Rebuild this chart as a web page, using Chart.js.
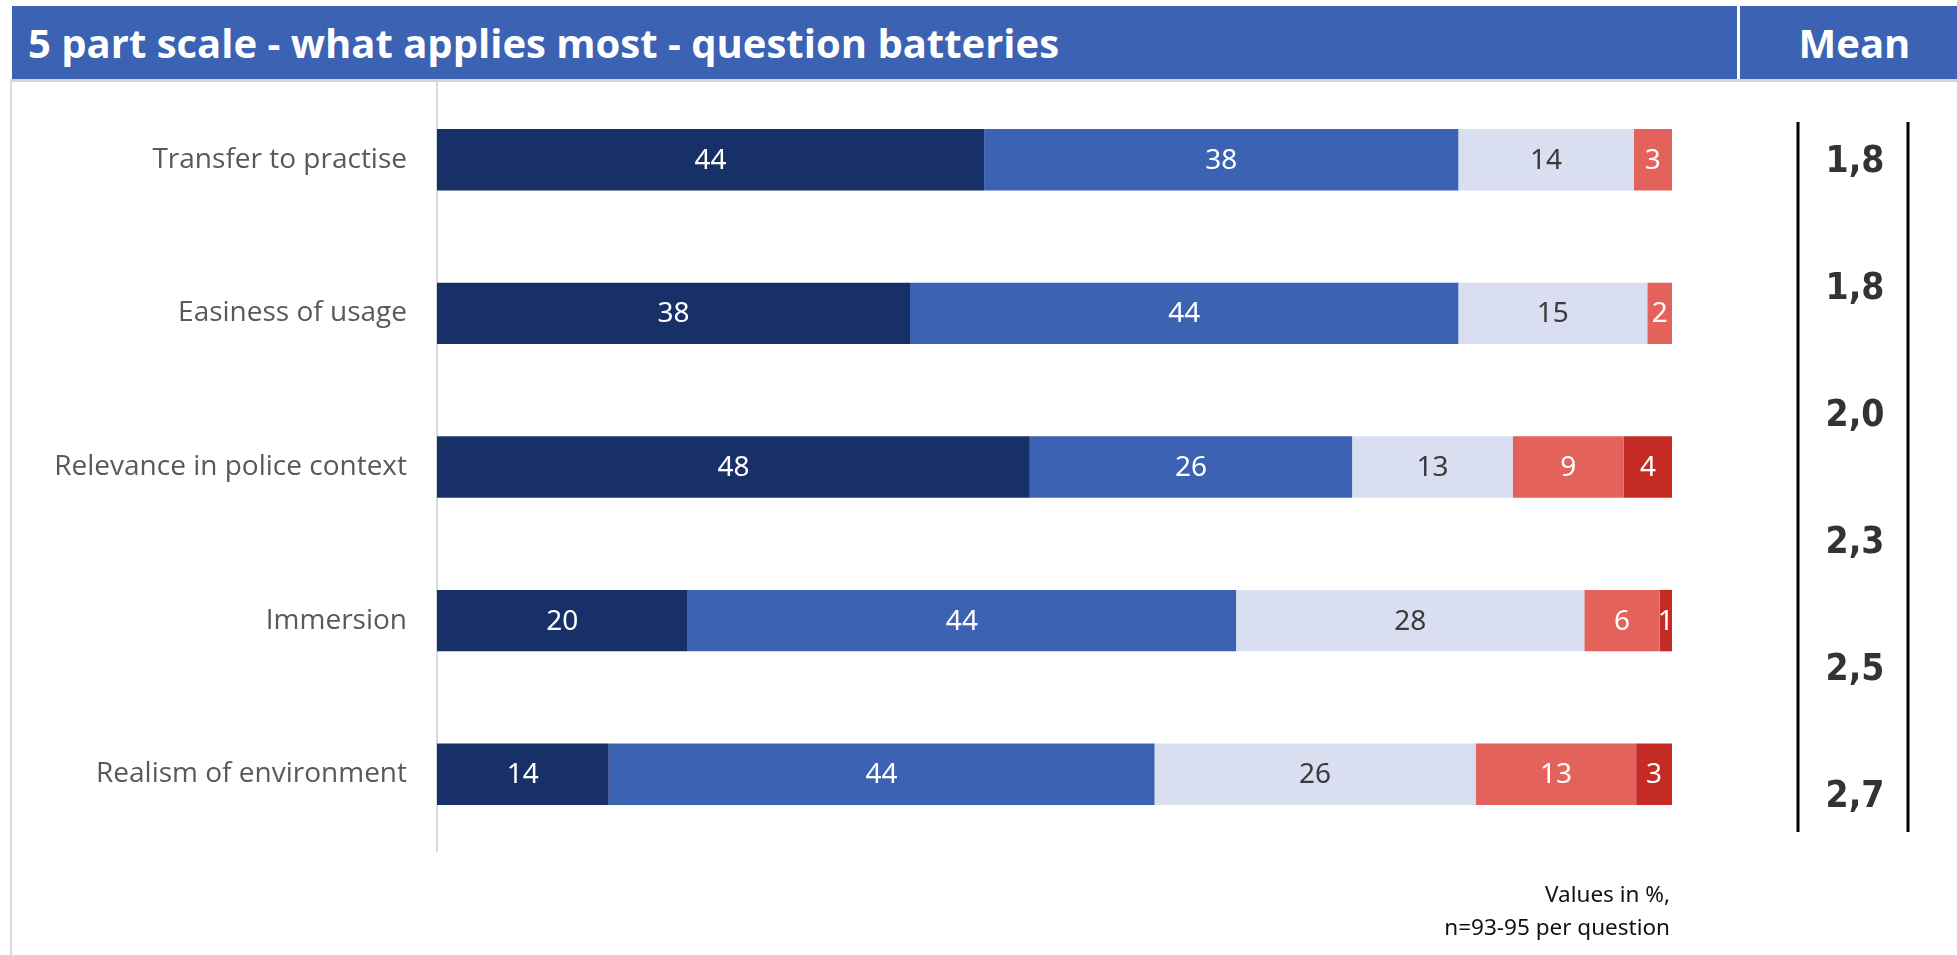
<!DOCTYPE html>
<html>
<head>
<meta charset="utf-8">
<script src="https://cdn.jsdelivr.net/npm/chart.js@4"></script>
<style>
  html, body { margin: 0; padding: 0; background: #ffffff; }
  #wrap { position: relative; width: 1957px; height: 955px; overflow: hidden; }
  #chart { position: absolute; left: 0; top: 0; }
  .hdr { position: absolute; top: 6px; height: 73px; background: #3b62b3; color: #ffffff;
         font-family: "Open Sans", sans-serif; font-weight: 700; font-size: 40px;
         line-height: 73px; white-space: nowrap; }
  #title { left: 12px; width: 1725px; padding-left: 16px; box-sizing: border-box; }
  #meanHdr { left: 1740px; width: 217px; text-align: center; padding-left: 12px; box-sizing: border-box; }
  #band { position: absolute; left: 10px; top: 79px; width: 1947px; height: 3px; background: #d4d4d4; }
  #frame { position: absolute; left: 10px; top: 79px; width: 2px; height: 876px; background: #d9d9d9; }
  #note { position: absolute; right: 287px; top: 877px; text-align: right;
          font-family: "Noto Sans", sans-serif; font-size: 22.5px; line-height: 33px; color: #111111; }
</style>
</head>
<body>
<div id="wrap">
  <canvas id="chart" width="1957" height="955"></canvas>
  <div class="hdr" id="title">5 part scale - what applies most - question batteries</div>
  <div class="hdr" id="meanHdr">Mean</div>
  <div id="band"></div>
  <div id="frame"></div>
  <div id="note">Values in %,<br>n=93-95 per question</div>
</div>
<script>
// questions (top to bottom)
const categories = ["Transfer to practise", "Easiness of usage", "Relevance in police context", "Immersion", "Realism of environment"];

// share per answer step, in %
const step1 = [44.3, 38.3, 48.0, 20.3, 13.9];
const step2 = [38.4, 44.4, 26.1, 44.4, 44.2];
const step3 = [14.2, 15.3, 13.0, 28.2, 26.0];
const step4 = [3.1, 2.0, 9.0, 6.1, 13.0];
const step5 = [0, 0, 3.9, 1.0, 2.9];

// mean column (as printed)
const means = ["1,8", "1,8", "2,0", "2,3", "2,5", "2,7"];

const stepColors = ["#183068", "#3b62b3", "#d9dff0", "#e4625c", "#c42b25"];
const labelColors = ["#ffffff", "#ffffff", "#3a3a3a", "#ffffff", "#ffffff"];

// value labels inside the bar segments
const barLabels = {
  id: "barLabels",
  afterDatasetsDraw(chart) {
    const ctx = chart.ctx;
    ctx.save();
    ctx.font = "28px 'Noto Sans'";
    ctx.textAlign = "center";
    ctx.textBaseline = "middle";
    chart.data.datasets.forEach((ds, i) => {
      const meta = chart.getDatasetMeta(i);
      meta.data.forEach((bar, j) => {
        const v = ds.data[j];
        if (!v) return;
        const c = bar.getCenterPoint();
        ctx.fillStyle = labelColors[i];
        ctx.fillText(String(Math.round(v)), c.x, c.y + 1);
      });
    });
    ctx.restore();
  }
};

// mean column on the right
const meanColumn = {
  id: "meanColumn",
  afterDraw(chart) {
    const ctx = chart.ctx;
    const xl = 1798, xr = 1908, top = 122, bottom = 832;
    ctx.save();
    ctx.strokeStyle = "#000000";
    ctx.lineWidth = 3;
    ctx.beginPath();
    ctx.moveTo(xl, top); ctx.lineTo(xl, bottom);
    ctx.moveTo(xr, top); ctx.lineTo(xr, bottom);
    ctx.stroke();
    ctx.font = "bold 37px 'DejaVu Sans Condensed', 'DejaVu Sans'";
    ctx.fillStyle = "#333333";
    ctx.textAlign = "center";
    ctx.textBaseline = "middle";
    const first = 160, last = 795;
    const gap = (last - first) / (means.length - 1);
    means.forEach((m, i) => {
      ctx.fillText(m, (xl + xr) / 2 + 2, first + i * gap + 2);
    });
    ctx.restore();
  }
};

const series = [step1, step2, step3, step4, step5];

new Chart(document.getElementById("chart"), {
  type: "bar",
  data: {
    labels: categories,
    datasets: series.map((d, i) => ({
      label: "Step " + (i + 1),
      data: d,
      backgroundColor: stepColors[i],
      borderWidth: 0,
      barPercentage: 0.4,
      categoryPercentage: 1.0
    }))
  },
  options: {
    indexAxis: "y",
    responsive: false,
    animation: false,
    layout: { padding: { left: 0, right: 285, top: 83, bottom: 104 } },
    plugins: {
      legend: { display: false },
      tooltip: { enabled: false }
    },
    scales: {
      x: {
        stacked: true,
        min: 0,
        max: 100,
        display: false
      },
      y: {
        stacked: true,
        grid: { display: true, drawOnChartArea: false, drawTicks: false },
        border: { display: true, color: "#d9d9d9", width: 2 },
        ticks: {
          color: "#595959",
          padding: 30,
          font: { family: "'Open Sans'", size: 28 }
        },
        afterFit(scale) { scale.width = 437; }
      }
    }
  },
  plugins: [barLabels, meanColumn]
});
</script>
</body>
</html>
